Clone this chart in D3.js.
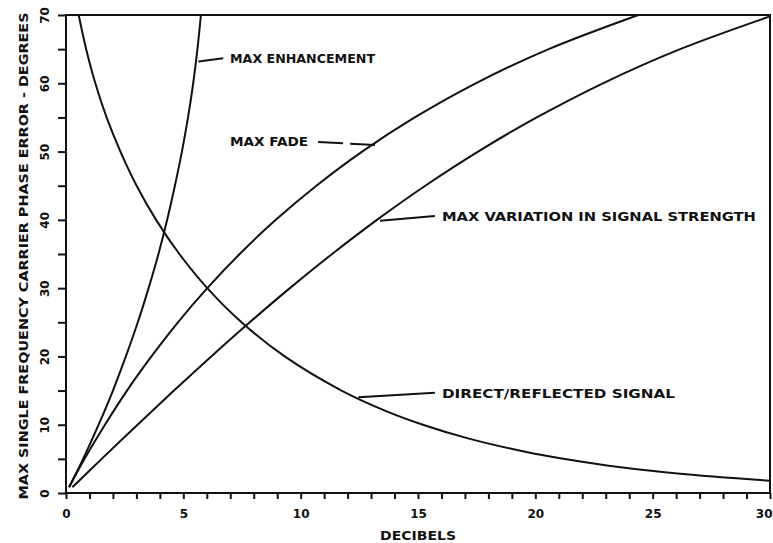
<!DOCTYPE html>
<html>
<head>
<meta charset="utf-8">
<script src="https://cdn.jsdelivr.net/npm/d3@7"></script>
<style>
  html, body { margin: 0; padding: 0; background: #fff; }
  svg { display: block; }
  text { font-family: "DejaVu Sans Condensed", "DejaVu Sans", sans-serif; font-weight: bold; fill: #111; }
</style>
</head>
<body>
<svg id="chart" width="773" height="543"></svg>
<script>
// ---- data (decibels, degrees) ----
const xTickLabels = [0, 5, 10, 15, 20, 25, 30];
const yTickLabels = [0, 10, 20, 30, 40, 50, 60, 70];

const maxEnhancement = [
  [0.13, 0.85], [0.73, 5], [1.39, 10], [2.00, 15], [2.55, 20], [3.06, 25], [3.52, 30],
  [3.94, 35], [4.31, 40], [4.64, 45], [4.94, 50], [5.20, 55], [5.42, 60], [5.60, 65], [5.75, 70]
];
const maxFade = [
  [0.13, 0.85], [0.79, 5], [1.66, 10], [2.60, 15], [3.64, 20], [4.77, 25], [6.02, 30],
  [7.40, 35], [8.94, 40], [10.67, 45], [12.62, 50], [14.86, 55], [17.46, 60], [20.57, 65], [24.39, 70]
];
const maxVariation = [
  [0.27, 0.85], [1.52, 5], [3.05, 10], [4.60, 15], [6.19, 20], [7.83, 25], [9.54, 30],
  [11.34, 35], [13.25, 40], [15.31, 45], [17.56, 50], [20.06, 55], [22.88, 60], [26.17, 65], [30, 69.8]
];
const directReflected = [
  [0.54, 70], [0.86, 65], [1.25, 60], [1.73, 55], [2.32, 50], [3.01, 45], [3.84, 40],
  [4.83, 35], [6.02, 30], [7.48, 25], [9.32, 20], [11.74, 15], [13.64, 12], [15.21, 10],
  [17.13, 8], [19.62, 6], [21.19, 5], [23.13, 4], [25.62, 3], [29.14, 2], [30, 1.81]
];

// annotation labels: text, pointer start (on curve), pointer end, text anchor point (data units)
const labelTexts = ["MAX ENHANCEMENT", "MAX FADE", "MAX VARIATION IN SIGNAL STRENGTH", "DIRECT/REFLECTED SIGNAL"];
const pointerFrom = [[5.64, 63.2], [13.17, 50.97], [13.38, 39.87], [12.46, 14.01]];
const pointerTo   = [[6.70, 63.65], [10.74, 51.4], [15.72, 40.56], [15.72, 14.69]];
const labelAt     = [[6.99, 63.65], [6.99, 51.44], [16.02, 40.46], [16.02, 14.6]];
const labelWidths = [145, 78, 314, 233];
const pointerDashed = [false, true, false, false];

const xTitle = "DECIBELS";
const yTitle = "MAX SINGLE FREQUENCY CARRIER PHASE ERROR - DEGREES";

// ---- drawing ----
const svg = d3.select("#chart");
const pLeft = 66, pRight = 770, pTop = 15, pBottom = 493;
const x = d3.scaleLinear().domain([0, 30]).range([pLeft, pRight]);
const y = d3.scaleLinear().domain([0, 70]).range([pBottom, pTop]);
const ink = "#111";

// x axis
const xAxis = d3.axisBottom(x)
  .tickValues(d3.range(0, 31, 1))
  .tickSize(6).tickSizeOuter(0).tickPadding(10)
  .tickFormat(d => xTickLabels.includes(d) ? String(d) : "");
const gx = svg.append("g").attr("transform", `translate(0,${pBottom})`).call(xAxis);
gx.select(".domain").remove();
gx.selectAll("line").attr("stroke", ink).attr("stroke-width", 2);
gx.selectAll("text").attr("font-size", 12).attr("fill", ink)
  .style("font-family", '"DejaVu Sans", sans-serif').style("font-weight", "bold");
// keep the last label inside the page edge
gx.selectAll(".tick").filter(d => d === 30).select("text")
  .attr("text-anchor", "end").attr("x", 2);

// y axis
const yAxis = d3.axisLeft(y)
  .tickValues(d3.range(0, 71, 5))
  .tickSize(8).tickSizeOuter(0)
  .tickFormat(d => yTickLabels.includes(d) ? String(d) : "");
const gy = svg.append("g").attr("transform", `translate(${pLeft},0)`).call(yAxis);
gy.select(".domain").remove();
gy.selectAll("line").attr("stroke", ink).attr("stroke-width", 2);
gy.selectAll("text")
  .attr("x", null).attr("dy", "0.36em")
  .attr("text-anchor", "middle")
  .attr("transform", "translate(-21,0) rotate(-90)")
  .attr("font-size", 12).attr("fill", ink)
  .style("font-family", '"DejaVu Sans", sans-serif').style("font-weight", "bold");

// frame
svg.append("rect")
  .attr("x", pLeft).attr("y", pTop)
  .attr("width", pRight - pLeft).attr("height", pBottom - pTop)
  .attr("fill", "none").attr("stroke", ink).attr("stroke-width", 2);

// curves
const line = d3.line().x(d => x(d[0])).y(d => y(d[1])).curve(d3.curveCatmullRom.alpha(0.5));
[maxEnhancement, maxFade, maxVariation, directReflected].forEach(s => {
  svg.append("path").datum(s).attr("d", line)
    .attr("fill", "none").attr("stroke", ink).attr("stroke-width", 2);
});

// annotations
labelTexts.forEach((t, i) => {
  svg.append("line")
    .attr("x1", x(pointerFrom[i][0])).attr("y1", y(pointerFrom[i][1]))
    .attr("x2", x(pointerTo[i][0])).attr("y2", y(pointerTo[i][1]))
    .attr("stroke", ink).attr("stroke-width", 2)
    .attr("stroke-dasharray", pointerDashed[i] ? "25,7" : null);
  svg.append("text")
    .attr("x", x(labelAt[i][0])).attr("y", y(labelAt[i][1]))
    .attr("dy", "0.36em")
    .attr("font-size", 13)
    .attr("textLength", labelWidths[i]).attr("lengthAdjust", "spacingAndGlyphs")
    .text(t);
});

// axis titles
svg.append("text")
  .attr("x", (pLeft + pRight) / 2).attr("y", 535).attr("dy", "0.36em")
  .attr("text-anchor", "middle").attr("font-size", 13)
  .attr("textLength", 76).attr("lengthAdjust", "spacingAndGlyphs")
  .text(xTitle);
svg.append("text")
  .attr("transform", "translate(23.5,256) rotate(-90)")
  .attr("dy", "0.36em")
  .attr("text-anchor", "middle").attr("font-size", 13)
  .attr("textLength", 487).attr("lengthAdjust", "spacingAndGlyphs")
  .text(yTitle);
</script>
</body>
</html>
